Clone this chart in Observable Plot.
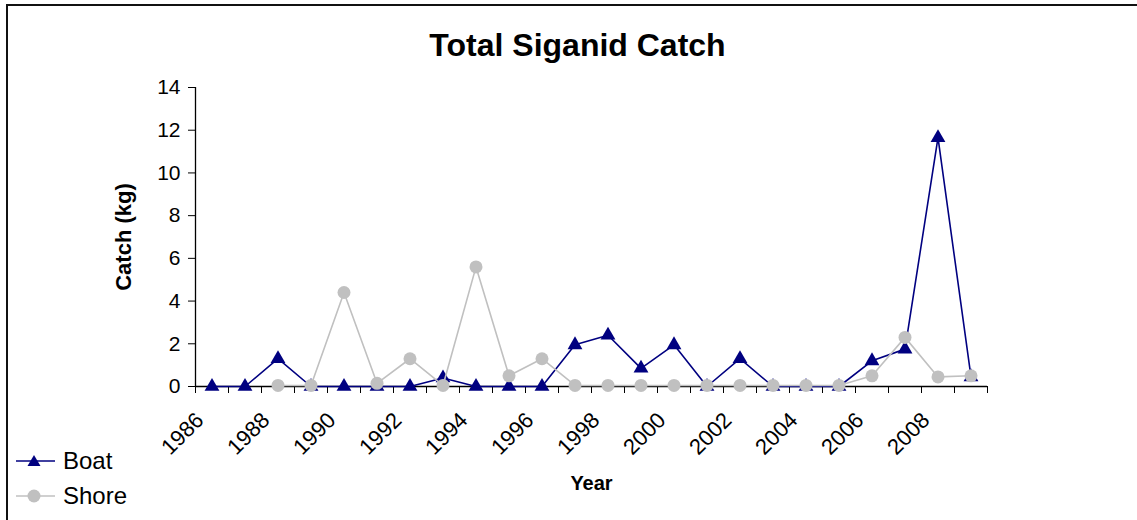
<!DOCTYPE html>
<html>
<head>
<meta charset="utf-8">
<script src="https://cdn.jsdelivr.net/npm/d3@7"></script>
<script src="https://cdn.jsdelivr.net/npm/@observablehq/plot@0.6"></script>
<style>
  html, body { margin: 0; padding: 0; background: #fff; }
  #wrap { position: relative; width: 1137px; height: 520px; font-family: "Liberation Sans", Arial, sans-serif; overflow: hidden; }
  #border { position: absolute; left: 6px; top: 4px; width: 1140px; height: 530px; border-top: 2px solid #111; border-left: 2px solid #111; box-sizing: border-box; pointer-events: none; }
  #legend { position: absolute; left: 14px; top: 443px; font-size: 24px; color: #000; }
  .row { display: flex; align-items: center; height: 35px; }
  .row svg { margin-right: 5px; }
</style>
</head>
<body>
<div id="wrap">
  <div id="chart"></div>
  <div id="border"></div>
  <div id="legend"></div>
</div>
<script>
const years = [1986, 1987, 1988, 1989, 1990, 1991, 1992, 1993, 1994, 1995, 1996, 1997,
               1998, 1999, 2000, 2001, 2002, 2003, 2004, 2005, 2006, 2007, 2008, 2009];
const boat  = [0, 0, 1.3, 0, 0, 0, 0, 0.4, 0, 0, 0, 1.95,
               2.4, 0.85, 1.95, 0, 1.3, 0, 0, 0, 1.2, 1.75, 11.65, 0.45];
const shore = [null, null, 0.05, 0.05, 4.4, 0.15, 1.3, 0.05, 5.6, 0.5, 1.3, 0.05,
               0.05, 0.05, 0.05, 0.05, 0.05, 0.05, 0.05, 0.05, 0.5, 2.3, 0.45, 0.5];
const yTicks = [0, 2, 4, 6, 8, 10, 12, 14];
const xLabelYears = [1986, 1988, 1990, 1992, 1994, 1996, 1998, 2000, 2002, 2004, 2006, 2008];
const seriesNames = ["Boat", "Shore"];
const seriesColors = ["#000080", "#C0C0C0"];
const titleText = "Total Siganid Catch";
const xTitle = "Year";
const yTitle = "Catch (kg)";

const boatData = years.map((y, i) => ({year: y, value: boat[i]}));
const shoreData = years.map((y, i) => ({year: y, value: shore[i]})).filter(d => d.value != null);
const boundaries = [...years.map(y => y - 0.5), years[years.length - 1] + 0.5];

const chart = Plot.plot({
  width: 1137,
  height: 520,
  marginLeft: 195,
  marginRight: 150,
  marginTop: 87,
  marginBottom: 134,
  style: {fontFamily: "'Liberation Sans', Arial, sans-serif", color: "#000", background: "transparent"},
  x: {domain: [boundaries[0], boundaries[boundaries.length - 1]], axis: null},
  y: {domain: [0, 14], axis: null},
  marks: [
    Plot.axisY({ticks: yTicks, tickSize: 7, tickPadding: 8, fontSize: 21, label: null, stroke: "#000"}),
    Plot.axisX({ticks: boundaries, tickSize: 7, tickFormat: () => "", label: null, stroke: "#000"}),
    Plot.ruleX([boundaries[0]], {stroke: "#000", strokeWidth: 1.3}),
    Plot.ruleY([0], {stroke: "#000", strokeWidth: 1.3}),
    Plot.text(xLabelYears, {x: d => d, y: 0, text: d => String(d), rotate: -45, textAnchor: "end", lineAnchor: "middle", dx: -12, dy: 30, fontSize: 22}),
    Plot.line(boatData, {x: "year", y: "value", stroke: seriesColors[0], strokeWidth: 1.6}),
    Plot.dot(boatData, {x: "year", y: "value", symbol: "triangle", fill: seriesColors[0], r: 5.5}),
    Plot.line(shoreData, {x: "year", y: "value", stroke: seriesColors[1], strokeWidth: 1.6}),
    Plot.dot(shoreData, {x: "year", y: "value", symbol: "circle", fill: seriesColors[1], r: 6.5}),
    Plot.text([titleText], {frameAnchor: "top", lineAnchor: "middle", dx: -14, dy: -42, fontSize: 32, fontWeight: "bold"}),
    Plot.text([xTitle], {frameAnchor: "bottom", lineAnchor: "middle", dy: 97, fontSize: 20, fontWeight: "bold"}),
    Plot.text([yTitle], {frameAnchor: "left", textAnchor: "middle", lineAnchor: "middle", dx: -72, rotate: -90, fontSize: 22, fontWeight: "bold"})
  ]
});
document.getElementById("chart").append(chart);

// Legend
const legend = document.getElementById("legend");
seriesNames.forEach((name, i) => {
  const row = document.createElement("div");
  row.className = "row";
  const marker = i === 0
    ? `<polygon points="20,11 26.5,22 13.5,22" fill="${seriesColors[i]}"/>`
    : `<circle cx="20" cy="17" r="6.5" fill="${seriesColors[i]}"/>`;
  row.innerHTML = `<svg width="44" height="34"><line x1="2" x2="41" y1="17" y2="17" stroke="${seriesColors[i]}" stroke-width="1.6"/>${marker}</svg><span>${name}</span>`;
  legend.append(row);
});
</script>
</body>
</html>
